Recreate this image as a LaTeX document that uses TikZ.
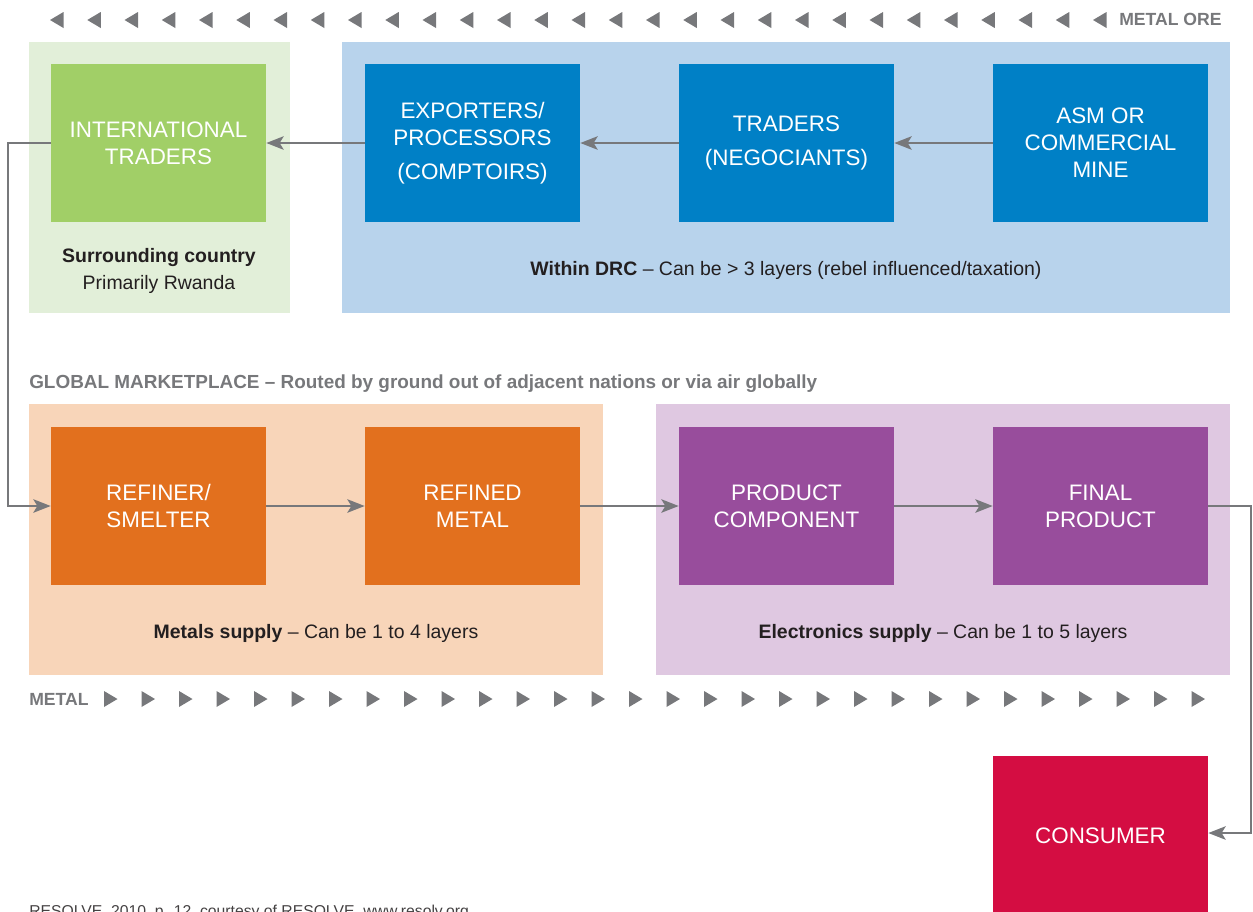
\documentclass[tikz,border=0pt]{standalone}
\usepackage{fontspec}
\setmainfont{Liberation Sans}
\usetikzlibrary{arrows.meta}
\definecolor{cgray}{HTML}{77787B}
\definecolor{cgreenL}{HTML}{E2EFD9}
\definecolor{cgreen}{HTML}{A1CF67}
\definecolor{cblueL}{HTML}{B8D3EC}
\definecolor{cblue}{HTML}{0080C6}
\definecolor{corangeL}{HTML}{F8D5B9}
\definecolor{corange}{HTML}{E2701E}
\definecolor{cpurpleL}{HTML}{DFC8E1}
\definecolor{cpurple}{HTML}{984D9C}
\definecolor{cred}{HTML}{D40D42}
\definecolor{cdark}{HTML}{231F20}
\tikzset{
  actor/.style={inner sep=0pt, minimum width=161.25pt, minimum height=118.5pt,
    text=white, align=center, font=\fontsize{16.8}{20.25}\selectfont},
  conn/.style={draw=cgray, line width=2pt, -{Stealth[length=13pt,width=10pt,inset=3pt]}},
  lbl/.style={inner sep=0pt, anchor=base, text=cdark, font=\fontsize{14.6}{17}\selectfont},
  graylbl/.style={inner sep=0pt, anchor=base west, text=cgray, font=\fontsize{13.2}{16}\selectfont\bfseries},
}
\begin{document}
\begin{tikzpicture}[x=0.75pt,y=-0.75pt]
\useasboundingbox (0,0) rectangle (1253,911);
% zones
\fill[cgreenL] (29,42) rectangle (290,313);
\fill[cblueL] (342,42) rectangle (1230,313);
\fill[corangeL] (29,404) rectangle (603,675);
\fill[cpurpleL] (656,404) rectangle (1230,675);
% top triangles
\foreach \i in {0,...,28} {
  \fill[cgray] ({50+\i*37.25},20) -- ({63.5+\i*37.25},12) -- ({63.5+\i*37.25},28) -- cycle;
}
\node[graylbl] (ore) at (1119,25) {METAL ORE};
% bottom triangles
\foreach \i in {0,...,29} {
  \fill[cgray] ({104+\i*37.5},691) -- ({117.5+\i*37.5},699) -- ({104+\i*37.5},707) -- cycle;
}
\node[graylbl] (metal) at (29,705) {METAL};
% top boxes
\node[actor, fill=cgreen] (it) at (158.5,143) {INTERNATIONAL\\TRADERS};
\node[actor, fill=cblue] (ex) at (472.5,143) {EXPORTERS/\\PROCESSORS\\[5pt](COMPTOIRS)};
\node[actor, fill=cblue] (tr) at (786.5,143) {TRADERS\\[5pt](NEGOCIANTS)};
\node[actor, fill=cblue] (asm) at (1100.5,143) {ASM OR\\COMMERCIAL\\MINE};
% bottom boxes
\node[actor, fill=corange] (ref) at (158.5,506) {REFINER/\\SMELTER};
\node[actor, fill=corange] (rm) at (472.5,506) {REFINED\\METAL};
\node[actor, fill=cpurple] (pc) at (786.5,506) {PRODUCT\\COMPONENT};
\node[actor, fill=cpurple] (fp) at (1100.5,506) {FINAL\\PRODUCT};
\node[actor, fill=cred, minimum height=120pt] (cons) at (1100.5,836) {CONSUMER};
% labels
\node[lbl] (sc) at (159,262) {\bfseries Surrounding country};
\node[lbl] (pr) at (159,289) {Primarily Rwanda};
\node[lbl] (drc) at (786,275) {\textbf{Within DRC} -- Can be > 3 layers (rebel influenced/taxation)};
\node[graylbl, font=\fontsize{14.2}{17}\selectfont\bfseries] (gm) at (29,388) {GLOBAL MARKETPLACE -- Routed by ground out of adjacent nations or via air globally};
\node[lbl] (ms) at (316,638) {\textbf{Metals supply} -- Can be 1 to 4 layers};
\node[lbl] (es) at (943,638) {\textbf{Electronics supply} -- Can be 1 to 5 layers};
\node[inner sep=0pt, anchor=base west, text=cdark!85, font=\fontsize{11.8}{14}\selectfont] (src) at (29,916) {RESOLVE, 2010, p. 12, courtesy of RESOLVE, www.resolv.org};
% connectors
\draw[conn] (asm) -- (tr);
\draw[conn] (tr) -- (ex);
\draw[conn] (ex) -- (it);
\coordinate (l1) at (8,143);
\coordinate (l2) at (8,506);
\draw[conn] (it.west) -- (l1) -- (l2) -- (ref.west);
\draw[conn] (ref) -- (rm);
\draw[conn] (rm) -- (pc);
\draw[conn] (pc) -- (fp);
\coordinate (r1) at (1251,506);
\coordinate (r2) at (1251,833);
\draw[conn] (fp.east) -- (r1) -- (r2) -- (r2 -| cons.east);
\end{tikzpicture}
\end{document}
